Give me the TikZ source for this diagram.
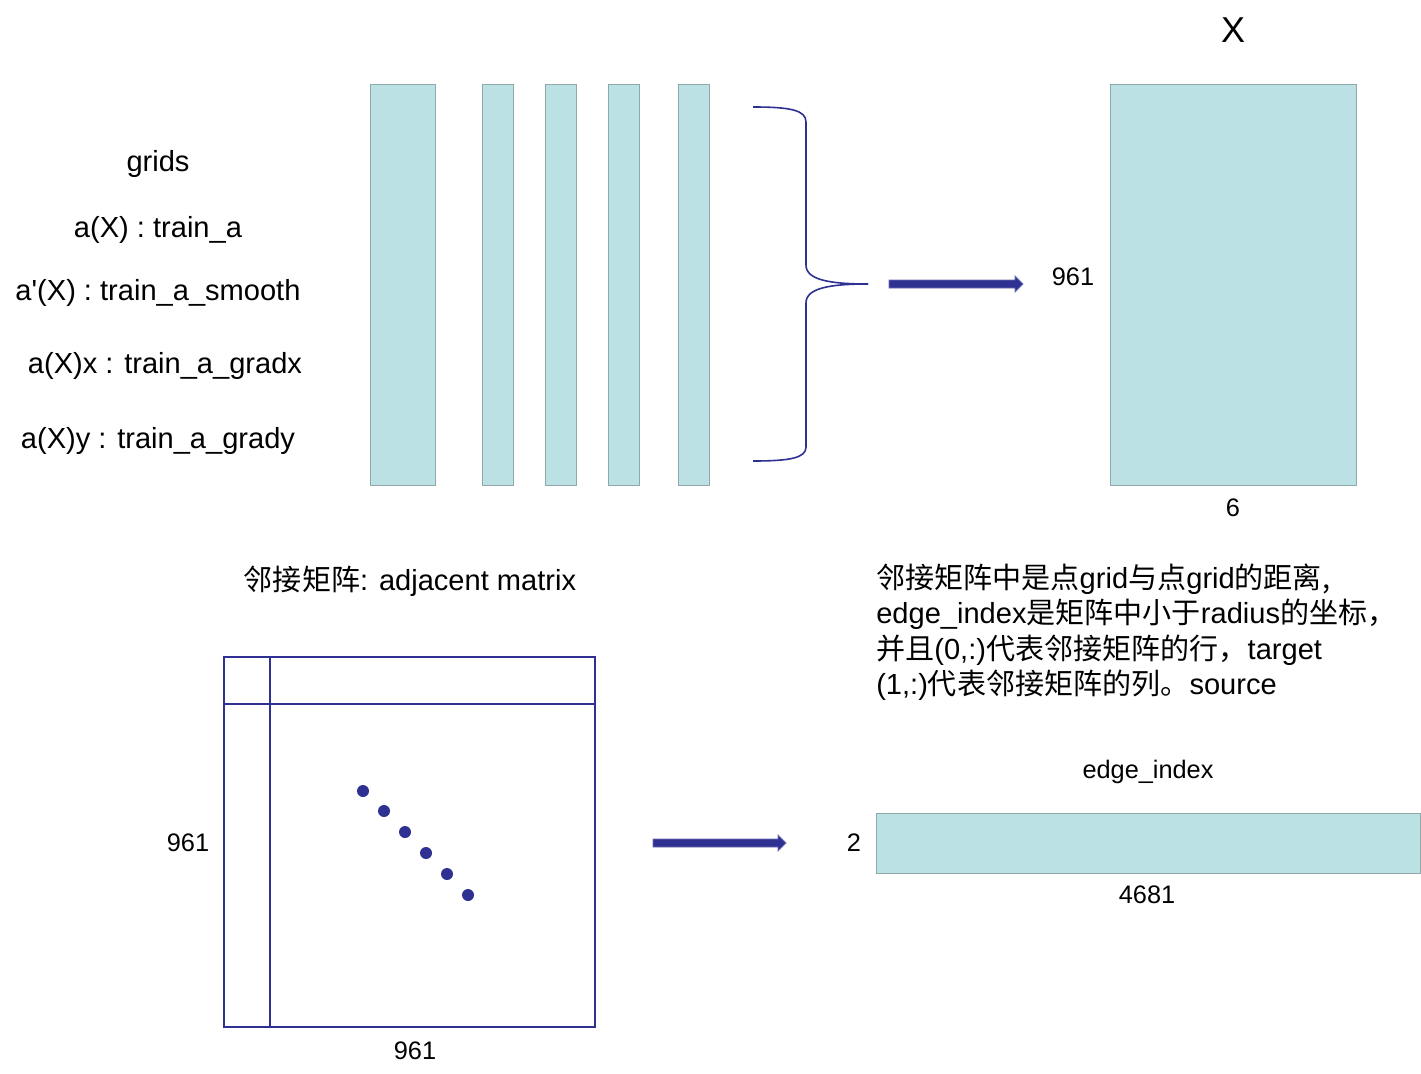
\documentclass[tikz,border=0pt]{standalone}
\usepackage{fontspec}
\setmainfont{Liberation Sans}
\newfontfamily\cjk{Noto Sans CJK SC}
\begin{document}
\begin{tikzpicture}[x=0.75pt,y=-0.75pt,
  bar/.style={fill=tealf,draw=tealb,line width=1pt},
  navy/.style={draw=navyc,line width=1.2pt},
  lab/.style={font=\fontsize{19}{23}\selectfont,inner sep=0pt},
  big/.style={font=\fontsize{21.8}{26}\selectfont,inner sep=0pt},
  dot/.style={circle,fill=navyc,minimum size=9pt,inner sep=0pt},
  blockarrow/.style={fill=navyc,draw=navyc!70,line width=0.6pt}]
\definecolor{tealf}{HTML}{BCE1E4}
\definecolor{tealb}{HTML}{8FA8AA}
\definecolor{navyc}{HTML}{2E3192}
\useasboundingbox (0,0) rectangle (1421,1074);
% top bars
\node[bar,minimum width=65*0.75pt,minimum height=401*0.75pt,inner sep=0pt,anchor=north west] (b1) at (370,84) {};
\foreach \x/\n in {482/b2,545/b3,608/b4,678/b5}
  \node[bar,minimum width=31*0.75pt,minimum height=401*0.75pt,inner sep=0pt,anchor=north west] (\n) at (\x,84) {};
\node[bar,minimum width=246*0.75pt,minimum height=401*0.75pt,inner sep=0pt,anchor=north west] (X) at (1110,84) {};
% labels
\node[big] (g) at (158,164) {grids};
\node[big] (l1) at (158,230) {a(X) : train\_a};
\node[big] (l2) at (158,293) {a\textquotesingle(X) : train\_a\_smooth};
\node[big] (l3) at (165,366) {a(X)x : train\_a\_gradx};
\node[big] (l4) at (158,441) {a(X)y : train\_a\_grady};
\node[font=\fontsize{27}{30}\selectfont,inner sep=0pt] (xl) at (1233,30) {X};
\node[lab] (n961a) at (1073,277) {961};
\node[lab] (n6) at (1233,508) {6};
% brace
\draw[navy] (753,107) .. controls (790,107) and (806,110) .. (806,122) -- (806,265)
  .. controls (806,280) and (830,284) .. (868,284);
\draw[navy] (868,284) .. controls (830,284) and (806,288) .. (806,303) -- (806,447)
  .. controls (806,458) and (790,461) .. (753,461);
% arrow 1
\fill[blockarrow] (889,280) -- (1015,280) -- (1015,276) -- (1023,284) -- (1015,292) -- (1015,288) -- (889,288) -- cycle;
% bottom left
\node[big] (adj) at (410,581) {{\cjk 邻接矩阵}: adjacent matrix};
\draw[navy] (224,657) rectangle (595,1027);
\draw[navy] (270,657) -- (270,1027);
\draw[navy] (224,704) -- (595,704);
\foreach \x/\y [count=\i] in {363/791,384/811,405/832,426/853,447/874,468/895}
  \node[dot] (d\i) at (\x,\y) {};
\node[lab] (n961b) at (188,843) {961};
\node[lab] (n961c) at (415,1051) {961};
% arrow 2
\fill[blockarrow] (653,839) -- (778,839) -- (778,835) -- (786,843) -- (778,851) -- (778,847) -- (653,847) -- cycle;
% right text
\node[big,anchor=north west,align=left,font=\fontsize{21.8}{26.3}\selectfont] (desc) at (876,564)
 {{\cjk 邻接矩阵中是点}grid{\cjk 与点}grid{\cjk 的距离,}\\
  edge\_index{\cjk 是矩阵中小于}radius{\cjk 的坐标，}\\
  {\cjk 并且}(0,:){\cjk 代表邻接矩阵的行，}target\\
  (1,:){\cjk 代表邻接矩阵的列。}source};
\node[lab] (ei) at (1148,772) {edge\_index};
\node[bar,minimum width=544*0.75pt,minimum height=60*0.75pt,inner sep=0pt,anchor=north west] (E) at (876,813) {};
\node[lab] (n2) at (854,843) {2};
\node[lab] (n4681) at (1147,895) {4681};
\end{tikzpicture}
\end{document}
